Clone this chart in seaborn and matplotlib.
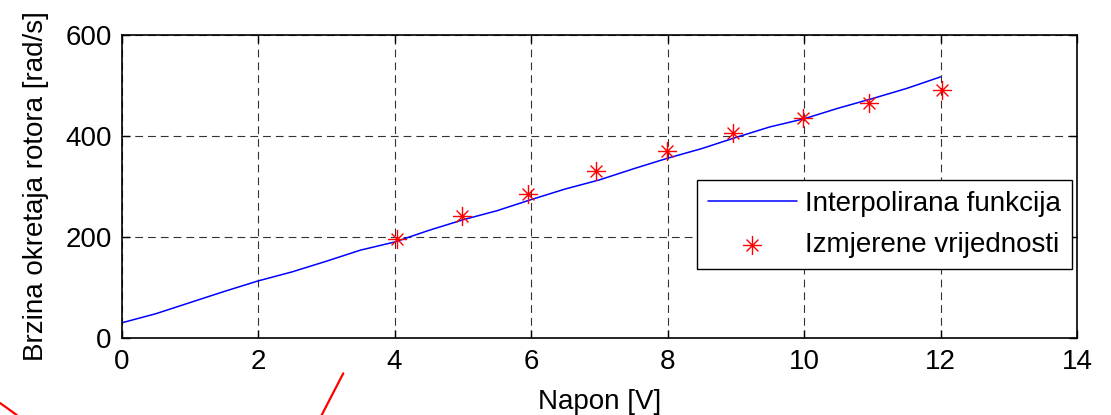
import numpy as np
import pandas as pd
import matplotlib
matplotlib.use("Agg")
import matplotlib.pyplot as plt
from matplotlib.path import Path
from matplotlib.lines import Line2D
import seaborn as sns

# Interpolated speed curve (sampled every 0.5 V)
napon_interp = [0, 0.5, 1, 1.5, 2, 2.5, 3, 3.5, 4, 4.5, 5, 5.5, 6,
                6.5, 7, 7.5, 8, 8.5, 9, 9.5, 10, 10.5, 11, 11.5, 12]
brzina_interp = [30, 48, 70, 92, 113, 131, 152, 174, 190, 213, 234, 252, 274,
                 295, 313, 335, 356, 375, 397, 418, 434, 455, 474, 494, 517]

# Measured values
napon_mjer = [4.03, 4.99, 5.96, 6.95, 7.99, 8.96, 9.99, 10.95, 12.02]
brzina_mjer = [196, 242, 286, 331, 370, 405, 435, 466, 491]

x_ticks = [0, 2, 4, 6, 8, 10, 12, 14]
y_ticks = [0, 200, 400, 600]

df_interp = pd.DataFrame({"Napon": napon_interp, "Brzina": brzina_interp})
df_mjer = pd.DataFrame({"Napon": napon_mjer, "Brzina": brzina_mjer})

sns.set_theme(style="white")
plt.rcParams["font.family"] = ["Liberation Sans", "DejaVu Sans"]
plt.rcParams["font.size"] = 20
plt.rcParams["text.color"] = "black"
plt.rcParams["axes.labelcolor"] = "black"
plt.rcParams["xtick.color"] = "black"
plt.rcParams["ytick.color"] = "black"

fig = plt.figure(figsize=(11.11, 4.15), dpi=100)
ax = fig.add_axes([0.1094, 0.1855, 0.8600, 0.7302])

# asterisk marker: plus combined with a cross
star_path = Path(
    [(-1, 0), (1, 0), (0, -1), (0, 1),
     (-0.62, -0.62), (0.62, 0.62), (-0.62, 0.62), (0.62, -0.62)],
    [Path.MOVETO, Path.LINETO, Path.MOVETO, Path.LINETO,
     Path.MOVETO, Path.LINETO, Path.MOVETO, Path.LINETO],
)

sns.lineplot(data=df_interp, x="Napon", y="Brzina", ax=ax, color="#0000FF",
             linewidth=1.1, label="Interpolirana funkcija")
sns.scatterplot(data=df_mjer, x="Napon", y="Brzina", ax=ax, marker=star_path,
                s=190, color="#FF0000", edgecolor="#FF0000", linewidth=1.0,
                label="Izmjerene vrijednosti", zorder=3)

ax.set_xlim(0, 14)
ax.set_ylim(0, 600)
ax.set_xticks(x_ticks)
ax.set_yticks(y_ticks)
ax.set_xticklabels([str(v) for v in x_ticks], fontsize=20)
ax.set_yticklabels([str(v) for v in y_ticks], fontsize=20)
ax.set_xlabel("Napon [V]", fontsize=20, labelpad=10, color="black")
ax.set_ylabel("Brzina okretaja rotora [rad/s]", fontsize=20, labelpad=12,
              color="black")

ax.grid(True, color="0.2", linestyle=(0, (7, 4.5)), linewidth=0.8)
ax.set_axisbelow(True)
ax.tick_params(direction="in", length=6, width=1, top=True, right=True,
               bottom=True, left=True, colors="black", labelcolor="black")
ax.tick_params(axis="x", pad=8)
ax.tick_params(axis="y", pad=7)
for sp in ax.spines.values():
    sp.set_visible(True)
    sp.set_color("black")
    sp.set_linewidth(1.2)

leg = ax.legend(loc="upper right", bbox_to_anchor=(0.995, 0.522),
                borderaxespad=0, frameon=True, fancybox=False, fontsize=20,
                handlelength=3.2, handletextpad=0.3, borderpad=0.4,
                labelspacing=0.55)
leg.get_frame().set_edgecolor("black")
leg.get_frame().set_linewidth(1.0)
leg.get_frame().set_alpha(1)
for t in leg.get_texts():
    t.set_color("black")

# red annotation strokes along the bottom edge
for xs, ys in [((0.0, 16.7), (403, 415)), ((343.3, 321.7), (373.3, 415))]:
    fig.add_artist(Line2D([v / 1111 for v in xs], [1 - v / 415 for v in ys],
                          transform=fig.transFigure, color="#FF0000",
                          linewidth=1.6))

fig.savefig("out.png", dpi=100)
